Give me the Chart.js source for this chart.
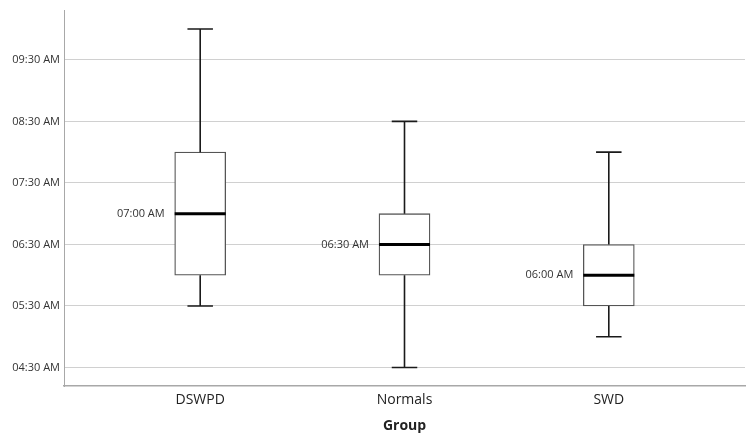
<!DOCTYPE html>
<html><head><meta charset="utf-8">
<script src="https://cdn.jsdelivr.net/npm/chart.js@4"></script>
<style>html,body{margin:0;padding:0;background:#fff}#wrap{width:752px;height:442px;position:relative}</style>
</head><body><div id="wrap"><canvas id="c"></canvas></div>
<script>
// values in minutes after midnight
const categories = ['DSWPD', 'Normals', 'SWD'];
const positions = [1, 2, 3];
const whiskerLow = [330, 270, 300];
const q1 = [360, 360, 330];
const median = [420, 390, 360];
const q3 = [480, 420, 390];
const whiskerHigh = [600, 510, 480];
const medianLabels = ['07:00 AM', '06:30 AM', '06:00 AM'];
const yTickValues = [270, 330, 390, 450, 510, 570];
const yTickLabels = ['04:30 AM', '05:30 AM', '06:30 AM', '07:30 AM', '08:30 AM', '09:30 AM'];

const FONT = "'Open Sans', 'DejaVu Sans', sans-serif";

const boxPlugin = {
  id: 'boxExtras',
  afterDatasetsDraw(chart) {
    const ctx = chart.ctx;
    const xs = chart.scales.x, ys = chart.scales.y;
    const meta = chart.getDatasetMeta(0);
    ctx.save();
    positions.forEach((p, i) => {
      const bar = meta.data[i];
      const cx = xs.getPixelForValue(p);
      const half = bar.width / 2;
      const capHalf = half / 2;
      const yHi = ys.getPixelForValue(whiskerHigh[i]);
      const yLo = ys.getPixelForValue(whiskerLow[i]);
      const yQ1 = ys.getPixelForValue(q1[i]);
      const yQ3 = ys.getPixelForValue(q3[i]);
      const yMed = ys.getPixelForValue(median[i]);
      ctx.strokeStyle = '#1a1a1a';
      ctx.lineWidth = 1.6;
      ctx.beginPath();
      ctx.moveTo(cx, yQ3); ctx.lineTo(cx, yHi);
      ctx.moveTo(cx - capHalf, yHi); ctx.lineTo(cx + capHalf, yHi);
      ctx.moveTo(cx, yQ1); ctx.lineTo(cx, yLo);
      ctx.moveTo(cx - capHalf, yLo); ctx.lineTo(cx + capHalf, yLo);
      ctx.stroke();
      ctx.strokeStyle = '#000';
      ctx.lineWidth = 3;
      ctx.beginPath();
      ctx.moveTo(cx - half, yMed); ctx.lineTo(cx + half, yMed);
      ctx.stroke();
      ctx.fillStyle = '#333';
      ctx.font = '11px ' + FONT;
      ctx.textAlign = 'right';
      ctx.textBaseline = 'middle';
      ctx.fillText(medianLabels[i], cx - half - 10, yMed);
    });
    ctx.restore();
  }
};

new Chart(document.getElementById('c'), {
  type: 'bar',
  data: {
    datasets: [{
      data: positions.map((p, i) => ({ x: p, y: [q1[i], q3[i]] })),
      backgroundColor: '#ffffff',
      borderColor: '#555555',
      borderWidth: 1.3,
      borderSkipped: false,
      barThickness: 51
    }]
  },
  options: {
    responsive: true,
    maintainAspectRatio: false,
    animation: false,
    layout: { padding: { top: 8, right: 7, left: 0, bottom: 0 } },
    plugins: { legend: { display: false }, tooltip: { enabled: false } },
    scales: {
      x: {
        type: 'linear',
        offset: false,
        min: 1 / 3,
        max: 11 / 3,
        afterBuildTicks(scale) { scale.ticks = positions.map(v => ({ value: v })); },
        afterFit(scale) { scale.height = 56; },
        grid: { display: false, drawTicks: false, offset: false },
        border: { display: true, color: '#a8a8a8', width: 1.5 },
        ticks: {
          padding: 6,
          color: '#222',
          font: { family: FONT, size: 14 },
          callback: (v) => categories[positions.indexOf(v)]
        },
        title: {
          display: true,
          text: 'Group',
          color: '#222',
          font: { family: FONT, size: 14, weight: 'bold' },
          padding: { top: 2, bottom: 8 }
        }
      },
      y: {
        min: 252,
        max: 618,
        afterBuildTicks(scale) { scale.ticks = yTickValues.map(v => ({ value: v })); },
        afterFit(scale) { scale.width = 64; },
        grid: { color: '#d0d0d0', lineWidth: 1, drawTicks: false },
        border: { display: true, color: '#a8a8a8', width: 1 },
        ticks: {
          padding: 4,
          color: '#333',
          font: { family: FONT, size: 11 },
          callback: (v) => yTickLabels[yTickValues.indexOf(v)]
        }
      }
    }
  },
  plugins: [boxPlugin]
});
</script>
</body></html>
